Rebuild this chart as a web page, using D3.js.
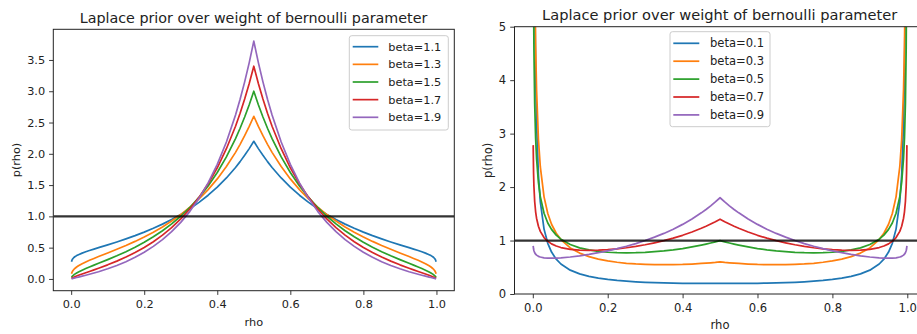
<!DOCTYPE html>
<html>
<head>
<meta charset="utf-8">
<script src="https://cdn.jsdelivr.net/npm/d3@7/dist/d3.min.js"></script>
<style>
  body { margin: 0; background: #fff; }
  svg { display: block; font-family: "DejaVu Sans", sans-serif; }
</style>
</head>
<body>
<svg id="fig" width="917" height="334"></svg>
<script>
// rho sample points (denser near the ends where the density changes fastest)
const rho = [0.001, 0.002, 0.003, 0.005, 0.0075, 0.01, 0.015, 0.02, 0.03, 0.04, 0.05, 0.0625, 0.075, 0.1, 0.125, 0.15,
             0.175, 0.2, 0.225, 0.25, 0.275, 0.3, 0.325, 0.35, 0.375, 0.4, 0.425, 0.45, 0.4625, 0.475, 0.4875, 0.5,
             0.5125, 0.525, 0.5375, 0.55, 0.575, 0.6, 0.625, 0.65, 0.675, 0.7, 0.725, 0.75, 0.775, 0.8, 0.825,
             0.85, 0.875, 0.9, 0.925, 0.9375, 0.95, 0.96, 0.97, 0.98, 0.985, 0.99, 0.9925, 0.995, 0.997, 0.998, 0.999];

// p(rho) for beta > 1
const highLabels = ["beta=1.1", "beta=1.3", "beta=1.5", "beta=1.7", "beta=1.9"];
const pBeta11 = [0.276, 0.297, 0.310, 0.327, 0.343, 0.354, 0.373, 0.388, 0.413, 0.434, 0.454, 0.477, 0.500, 0.545, 0.591, 0.640,
                 0.692, 0.748, 0.809, 0.876, 0.950, 1.031, 1.122, 1.224, 1.338, 1.467, 1.614, 1.782, 1.875, 1.976, 2.083, 2.2,
                 2.083, 1.976, 1.875, 1.782, 1.614, 1.467, 1.338, 1.224, 1.122, 1.031, 0.950, 0.876, 0.809, 0.748, 0.692,
                 0.640, 0.591, 0.545, 0.500, 0.477, 0.454, 0.434, 0.413, 0.388, 0.373, 0.354, 0.343, 0.327, 0.310, 0.297, 0.276];
const pBeta13 = [0.082, 0.101, 0.115, 0.134, 0.152, 0.167, 0.191, 0.211, 0.244, 0.272, 0.298, 0.328, 0.358, 0.415, 0.474, 0.535,
                 0.600, 0.670, 0.747, 0.831, 0.925, 1.029, 1.146, 1.278, 1.428, 1.599, 1.796, 2.023, 2.151, 2.289, 2.438, 2.6,
                 2.438, 2.289, 2.151, 2.023, 1.796, 1.599, 1.428, 1.278, 1.146, 1.029, 0.925, 0.831, 0.747, 0.670, 0.600,
                 0.535, 0.474, 0.415, 0.358, 0.328, 0.298, 0.272, 0.244, 0.211, 0.191, 0.167, 0.152, 0.134, 0.115, 0.101, 0.082];
const pBeta15 = [0.0238, 0.0337, 0.0414, 0.0537, 0.0662, 0.0769, 0.0954, 0.1116, 0.1402, 0.1661, 0.1907, 0.2203, 0.2496, 0.3087, 0.370, 0.4361,
                 0.507, 0.5858, 0.673, 0.770, 0.879, 1.002, 1.142, 1.303, 1.487, 1.701, 1.950, 2.242, 2.408, 2.588, 2.785, 3.0,
                 2.785, 2.588, 2.408, 2.242, 1.950, 1.701, 1.487, 1.303, 1.142, 1.002, 0.879, 0.770, 0.673, 0.5858, 0.507,
                 0.4361, 0.370, 0.3087, 0.2496, 0.2203, 0.1907, 0.1661, 0.1402, 0.1116, 0.0954, 0.0769, 0.0662, 0.0537, 0.0414, 0.0337, 0.0238];
const pBeta17 = [0.0068, 0.0110, 0.0147, 0.0211, 0.0282, 0.0348, 0.0468, 0.0580, 0.0793, 0.0997, 0.1199, 0.1453, 0.1711, 0.2254, 0.2843, 0.3493,
                 0.422, 0.5032, 0.595, 0.700, 0.820, 0.959, 1.118, 1.304, 1.522, 1.777, 2.081, 2.441, 2.648, 2.875, 3.125, 3.4,
                 3.125, 2.875, 2.648, 2.441, 2.081, 1.777, 1.522, 1.304, 1.118, 0.959, 0.820, 0.700, 0.595, 0.5032, 0.422,
                 0.3493, 0.2843, 0.2254, 0.1711, 0.1453, 0.1199, 0.0997, 0.0793, 0.0580, 0.0468, 0.0348, 0.0282, 0.0211, 0.0147, 0.0110, 0.0068];
const pBeta19 = [0.0019, 0.0036, 0.0051, 0.0082, 0.0119, 0.0155, 0.0227, 0.0298, 0.0442, 0.0590, 0.0744, 0.0944, 0.1157, 0.1624, 0.2153, 0.2760,
                 0.346, 0.4262, 0.520, 0.628, 0.755, 0.904, 1.080, 1.288, 1.536, 1.832, 2.189, 2.621, 2.872, 3.150, 3.458, 3.8,
                 3.458, 3.150, 2.872, 2.621, 2.189, 1.832, 1.536, 1.288, 1.080, 0.904, 0.755, 0.628, 0.520, 0.4262, 0.346,
                 0.2760, 0.2153, 0.1624, 0.1157, 0.0944, 0.0744, 0.0590, 0.0442, 0.0298, 0.0227, 0.0155, 0.0119, 0.0082, 0.0051, 0.0036, 0.0019];

// p(rho) for beta < 1
const lowLabels = ["beta=0.1", "beta=0.3", "beta=0.5", "beta=0.7", "beta=0.9"];
const pBeta01 = [25.09, 13.46, 9.35, 5.92, 4.12, 3.19, 2.227, 1.729, 1.214, 0.948, 0.784, 0.651, 0.561, 0.446, 0.376, 0.330,
                 0.297, 0.272, 0.253, 0.239, 0.228, 0.219, 0.212, 0.207, 0.203, 0.200, 0.1985, 0.198, 0.198, 0.1985, 0.199, 0.2,
                 0.199, 0.1985, 0.198, 0.198, 0.1985, 0.200, 0.203, 0.207, 0.212, 0.219, 0.228, 0.239, 0.253, 0.272, 0.297,
                 0.330, 0.376, 0.446, 0.561, 0.651, 0.784, 0.948, 1.214, 1.729, 2.227, 3.19, 4.12, 5.92, 9.35, 13.46, 25.09];
const pBeta03 = [18.91, 11.65, 8.79, 6.16, 4.65, 3.82, 2.893, 2.381, 1.817, 1.506, 1.305, 1.136, 1.018, 0.862, 0.765, 0.699,
                 0.653, 0.618, 0.594, 0.575, 0.562, 0.554, 0.549, 0.548, 0.549, 0.553, 0.561, 0.571, 0.577, 0.584, 0.591, 0.6,
                 0.591, 0.584, 0.577, 0.571, 0.561, 0.553, 0.549, 0.548, 0.549, 0.554, 0.562, 0.575, 0.594, 0.618, 0.653,
                 0.699, 0.765, 0.862, 1.018, 1.136, 1.305, 1.506, 1.817, 2.381, 2.893, 3.82, 4.65, 6.16, 8.79, 11.65, 18.91];
const pBeta05 = [7.92, 5.61, 4.585, 3.562, 2.919, 2.538, 2.088, 1.822, 1.511, 1.329, 1.208, 1.102, 1.026, 0.926, 0.864, 0.824,
                 0.797, 0.781, 0.773, 0.770, 0.772, 0.779, 0.791, 0.806, 0.826, 0.850, 0.880, 0.914, 0.933, 0.954, 0.976, 1.0,
                 0.976, 0.954, 0.933, 0.914, 0.880, 0.850, 0.826, 0.806, 0.791, 0.779, 0.772, 0.770, 0.773, 0.781, 0.797,
                 0.824, 0.864, 0.926, 1.026, 1.102, 1.208, 1.329, 1.511, 1.822, 2.088, 2.538, 2.919, 3.562, 4.585, 5.61, 7.92];
const pBeta07 = [2.785, 2.266, 2.010, 1.730, 1.538, 1.417, 1.266, 1.171, 1.056, 0.985, 0.938, 0.897, 0.869, 0.835, 0.820, 0.815,
                 0.819, 0.829, 0.844, 0.865, 0.891, 0.921, 0.957, 0.997, 1.044, 1.098, 1.159, 1.229, 1.267, 1.309, 1.352, 1.4,
                 1.352, 1.309, 1.267, 1.229, 1.159, 1.098, 1.044, 0.997, 0.957, 0.921, 0.891, 0.865, 0.844, 0.829, 0.819,
                 0.815, 0.820, 0.835, 0.869, 0.897, 0.938, 0.985, 1.056, 1.171, 1.266, 1.417, 1.538, 1.730, 2.010, 2.266, 2.785];
const pBeta09 = [0.900, 0.841, 0.809, 0.772, 0.745, 0.727, 0.705, 0.692, 0.677, 0.671, 0.669, 0.671, 0.676, 0.692, 0.714, 0.741,
                 0.772, 0.808, 0.848, 0.893, 0.943, 1.000, 1.063, 1.133, 1.212, 1.302, 1.403, 1.518, 1.581, 1.649, 1.722, 1.8,
                 1.722, 1.649, 1.581, 1.518, 1.403, 1.302, 1.212, 1.133, 1.063, 1.000, 0.943, 0.893, 0.848, 0.808, 0.772,
                 0.741, 0.714, 0.692, 0.676, 0.671, 0.669, 0.671, 0.677, 0.692, 0.705, 0.727, 0.745, 0.772, 0.809, 0.841, 0.900];

// uniform reference density
const uniformLevel = 1;

const xTicks = [0, 0.2, 0.4, 0.6, 0.8, 1.0];
const yTicksHigh = [0, 0.5, 1.0, 1.5, 2.0, 2.5, 3.0, 3.5];
const yTicksLow = [0, 1, 2, 3, 4, 5];

const colors = ["#1f77b4", "#ff7f0e", "#2ca02c", "#d62728", "#9467bd"];
const titleText = "Laplace prior over weight of bernoulli parameter";

const svg = d3.select("#fig");

function drawPanel(cfg) {
  const { id, xRange, yDomain, yRange, yTicks, yFmt, series, labels, legend, s } = cfg;
  const x = d3.scaleLinear().domain([-0.0489, 1.0489]).range(xRange);
  const y = d3.scaleLinear().domain(yDomain).range(yRange);
  const g = svg.append("g");
  const left = xRange[0], right = xRange[1], top = yRange[1], bottom = yRange[0];
  const tickFont = 11.3 * s;

  g.append("clipPath").attr("id", "clip-" + id)
    .append("rect").attr("x", left).attr("y", top)
    .attr("width", right - left).attr("height", bottom - top);

  const plot = g.append("g").attr("clip-path", `url(#clip-${id})`);
  const line = d3.line().x((d, i) => x(rho[i])).y(d => y(d));
  series.forEach((vals, k) => {
    plot.append("path").datum(vals)
      .attr("d", line)
      .attr("fill", "none")
      .attr("stroke", colors[k])
      .attr("stroke-width", 1.7 * s)
      .attr("stroke-linejoin", "round");
  });

  // horizontal reference at p = 1
  plot.append("line")
    .attr("x1", left).attr("x2", right)
    .attr("y1", y(uniformLevel)).attr("y2", y(uniformLevel))
    .attr("stroke", "#000").attr("stroke-opacity", 0.8)
    .attr("stroke-width", 2.2 * s);

  // axes
  const xAxis = d3.axisBottom(x).tickValues(xTicks).tickFormat(d3.format(".1f"))
    .tickSizeInner(4.2 * s).tickSizeOuter(0).tickPadding(5 * s);
  const yAxis = d3.axisLeft(y).tickValues(yTicks).tickFormat(yFmt)
    .tickSizeInner(4.2 * s).tickSizeOuter(0).tickPadding(4 * s);

  const gx = g.append("g").attr("transform", `translate(0,${bottom})`).call(xAxis);
  const gy = g.append("g").attr("transform", `translate(${left},0)`).call(yAxis);
  [gx, gy].forEach(a => {
    a.select(".domain").remove();
    a.selectAll(".tick line").attr("stroke", "#222").attr("stroke-width", 0.9);
    a.selectAll(".tick text").attr("fill", "#222")
      .style("font-family", "'DejaVu Sans', sans-serif").style("font-size", tickFont + "px");
  });

  // spines
  g.append("rect").attr("x", left).attr("y", top)
    .attr("width", right - left).attr("height", bottom - top)
    .attr("fill", "none").attr("stroke", "#222").attr("stroke-width", 1);

  // title and axis labels
  g.append("text").attr("x", cfg.titleX).attr("y", cfg.titleY)
    .attr("text-anchor", "middle").attr("fill", "#222")
    .style("font-size", (14.3 * s) + "px").text(titleText);
  g.append("text").attr("x", x(0.5)).attr("y", cfg.xLabelY)
    .attr("text-anchor", "middle").attr("fill", "#222")
    .style("font-size", tickFont + "px").text("rho");
  g.append("text").attr("transform", `translate(${cfg.yLabelX},${(top + bottom) / 2}) rotate(-90)`)
    .attr("text-anchor", "middle").attr("dy", "0.35em").attr("fill", "#222")
    .style("font-size", tickFont + "px").text("p(rho)");

  // legend
  const lg = g.append("g").attr("transform", `translate(${legend.x},${legend.y})`);
  lg.append("rect").attr("width", legend.w).attr("height", legend.h)
    .attr("rx", 2.5).attr("fill", "#fff").attr("fill-opacity", 0.8)
    .attr("stroke", "#cccccc").attr("stroke-width", 1);
  labels.forEach((lab, k) => {
    const cy = legend.first + k * legend.step;
    lg.append("line").attr("x1", legend.lx0).attr("x2", legend.lx1)
      .attr("y1", cy).attr("y2", cy)
      .attr("stroke", colors[k]).attr("stroke-width", 1.7 * s);
    lg.append("text").attr("x", legend.tx).attr("y", cy).attr("dy", "0.35em")
      .attr("fill", "#222").style("font-size", tickFont + "px").text(lab);
  });
}

drawPanel({
  id: "high", s: 1,
  xRange: [53.3, 454.3],
  yDomain: [-0.188, 3.990], yRange: [290.7, 29.3],
  yTicks: yTicksHigh, yFmt: d3.format(".1f"),
  series: [pBeta11, pBeta13, pBeta15, pBeta17, pBeta19],
  labels: highLabels,
  titleX: 253.5, titleY: 22.5,
  xLabelY: 325.5, yLabelX: 16,
  legend: { x: 349.3, y: 35.7, w: 99, h: 94.3, first: 11, step: 17.65, lx0: 3.4, lx1: 29, tx: 39 }
});

drawPanel({
  id: "low", s: 1.023,
  xRange: [514.5, 925.6],
  yDomain: [0, 5], yRange: [294, 26.7],
  yTicks: yTicksLow, yFmt: d3.format("d"),
  series: [pBeta01, pBeta03, pBeta05, pBeta07, pBeta09],
  labels: lowLabels,
  titleX: 719.7, titleY: 19.5,
  xLabelY: 329, yLabelX: 488,
  legend: { x: 670, y: 31.7, w: 100, h: 95, first: 11.6, step: 17.9, lx0: 3.3, lx1: 29.3, tx: 40 }
});
</script>
</body>
</html>
